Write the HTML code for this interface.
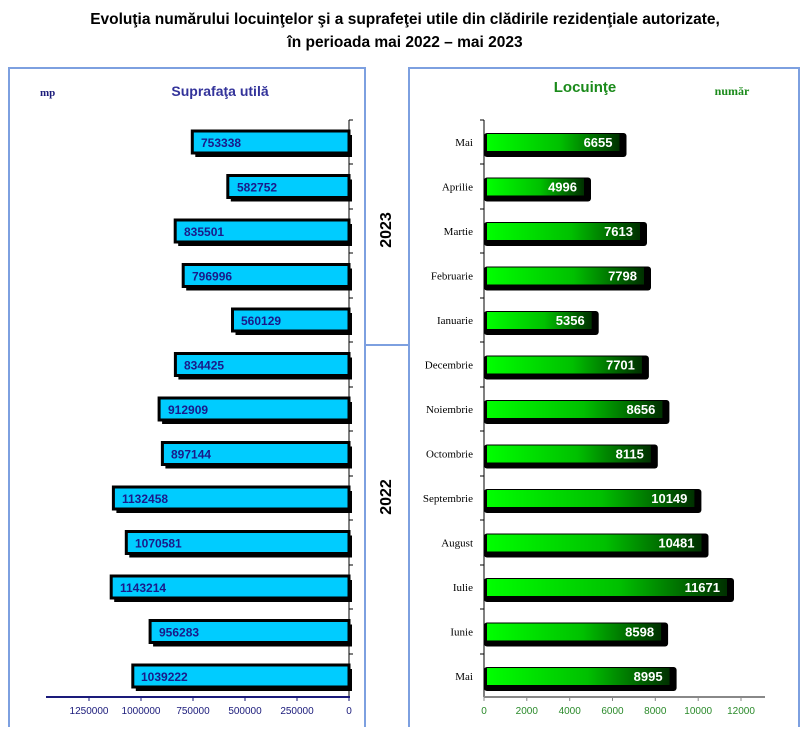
<!DOCTYPE html>
<html><head><meta charset="utf-8"><style>
body{margin:0;background:#fff;width:811px;height:727px;overflow:hidden}
.lv{font-family:"Liberation Sans",sans-serif;font-weight:bold;font-size:12px;fill:#1a1a8a}
.rv{font-family:"Liberation Sans",sans-serif;font-weight:bold;font-size:13px;fill:#fff;text-anchor:end}
.m{font-family:"Liberation Serif",serif;font-size:11px;text-anchor:end}
.lt{font-family:"Liberation Sans",sans-serif;font-size:10px;fill:#1a1a7a;text-anchor:middle}
.rt{font-family:"Liberation Sans",sans-serif;font-size:10px;fill:#2a8a2a;text-anchor:middle}
.lb{fill:#00ccff;stroke:#000;stroke-width:3}
</style></head><body>
<svg width="811" height="727" xmlns="http://www.w3.org/2000/svg">
<defs>
<linearGradient id="g" x1="0" x2="1" y1="0" y2="0">
<stop offset="0" stop-color="#00ff00"/><stop offset="0.55" stop-color="#00c000"/><stop offset="1" stop-color="#003000"/>
</linearGradient>
</defs>
<text x="405" y="24" text-anchor="middle" font-family="Liberation Sans, sans-serif" font-weight="bold" font-size="15.5">Evoluţia numărului locuinţelor şi a suprafeţei utile din clădirile rezidenţiale autorizate,</text>
<text x="405" y="47" text-anchor="middle" font-family="Liberation Sans, sans-serif" font-weight="bold" font-size="15.5">în perioada mai 2022 – mai 2023</text>
<g fill="none" stroke="#7da0e0" stroke-width="2">
<rect x="9" y="68" width="356" height="670"/>
<rect x="409" y="68" width="390" height="670"/>
<line x1="365" y1="345" x2="409" y2="345"/>
</g>
<text x="387" y="230" transform="rotate(-90 387 230)" text-anchor="middle" dominant-baseline="middle" font-family="Liberation Sans, sans-serif" font-weight="bold" font-size="16">2023</text>
<text x="387" y="497" transform="rotate(-90 387 497)" text-anchor="middle" dominant-baseline="middle" font-family="Liberation Sans, sans-serif" font-weight="bold" font-size="16">2022</text>
<text x="40" y="96" font-family="Liberation Serif, serif" font-weight="bold" font-size="11" fill="#1a1a7a">mp</text>
<text x="220" y="96" text-anchor="middle" font-family="Liberation Sans, sans-serif" font-weight="bold" font-size="14" fill="#33339a">Suprafaţa utilă</text>
<text x="585" y="92" text-anchor="middle" font-family="Liberation Sans, sans-serif" font-weight="bold" font-size="15" fill="#1a8a1a">Locuinţe</text>
<text x="732" y="95" text-anchor="middle" font-family="Liberation Serif, serif" font-weight="bold" font-size="12" fill="#1a8a1a">număr</text>
<line x1="349" y1="120" x2="349" y2="697" stroke="#000"/>
<line x1="46" y1="697" x2="350" y2="697" stroke="#1a1a7a" stroke-width="2"/>
<line x1="484" y1="120" x2="484" y2="697" stroke="#000"/>
<line x1="484" y1="697" x2="765" y2="697" stroke="#888" stroke-width="2"/>

<g transform="translate(0,142)"><rect x="195.3" y="-7" width="156.7" height="22"/><rect class="lb" x="192.3" y="-11" width="156.7" height="22"/><text class="lv" x="201" y="5">753338</text>
<rect x="484" y="-9" width="142.5" height="24" rx="3"/><rect x="487" y="-8" width="132.5" height="17" fill="url(#g)"/><text class="rv" x="612.5" y="5">6655</text><text class="m" x="473" y="4">Mai</text></g>
<g transform="translate(0,186.5)"><rect x="230.8" y="-7" width="121.2" height="22"/><rect class="lb" x="227.8" y="-11" width="121.2" height="22"/><text class="lv" x="237" y="5">582752</text>
<rect x="484" y="-9" width="107" height="24" rx="3"/><rect x="487" y="-8" width="97" height="17" fill="url(#g)"/><text class="rv" x="577" y="5">4996</text><text class="m" x="473" y="4">Aprilie</text></g>
<g transform="translate(0,231)"><rect x="178.2" y="-7" width="173.8" height="22"/><rect class="lb" x="175.2" y="-11" width="173.8" height="22"/><text class="lv" x="184" y="5">835501</text>
<rect x="484" y="-9" width="163" height="24" rx="3"/><rect x="487" y="-8" width="153" height="17" fill="url(#g)"/><text class="rv" x="633" y="5">7613</text><text class="m" x="473" y="4">Martie</text></g>
<g transform="translate(0,275.5)"><rect x="186.2" y="-7" width="165.8" height="22"/><rect class="lb" x="183.2" y="-11" width="165.8" height="22"/><text class="lv" x="192" y="5">796996</text>
<rect x="484" y="-9" width="167" height="24" rx="3"/><rect x="487" y="-8" width="157" height="17" fill="url(#g)"/><text class="rv" x="637" y="5">7798</text><text class="m" x="473" y="4">Februarie</text></g>
<g transform="translate(0,320)"><rect x="235.5" y="-7" width="116.5" height="22"/><rect class="lb" x="232.5" y="-11" width="116.5" height="22"/><text class="lv" x="241" y="5">560129</text>
<rect x="484" y="-9" width="114.7" height="24" rx="3"/><rect x="487" y="-8" width="104.7" height="17" fill="url(#g)"/><text class="rv" x="584.7" y="5">5356</text><text class="m" x="473" y="4">Ianuarie</text></g>
<g transform="translate(0,364.5)"><rect x="178.4" y="-7" width="173.6" height="22"/><rect class="lb" x="175.4" y="-11" width="173.6" height="22"/><text class="lv" x="184" y="5">834425</text>
<rect x="484" y="-9" width="164.9" height="24" rx="3"/><rect x="487" y="-8" width="154.9" height="17" fill="url(#g)"/><text class="rv" x="634.9" y="5">7701</text><text class="m" x="473" y="4">Decembrie</text></g>
<g transform="translate(0,409)"><rect x="162.1" y="-7" width="189.9" height="22"/><rect class="lb" x="159.1" y="-11" width="189.9" height="22"/><text class="lv" x="168" y="5">912909</text>
<rect x="484" y="-9" width="185.4" height="24" rx="3"/><rect x="487" y="-8" width="175.4" height="17" fill="url(#g)"/><text class="rv" x="655.4" y="5">8656</text><text class="m" x="473" y="4">Noiembrie</text></g>
<g transform="translate(0,453.5)"><rect x="165.4" y="-7" width="186.6" height="22"/><rect class="lb" x="162.4" y="-11" width="186.6" height="22"/><text class="lv" x="171" y="5">897144</text>
<rect x="484" y="-9" width="173.8" height="24" rx="3"/><rect x="487" y="-8" width="163.8" height="17" fill="url(#g)"/><text class="rv" x="643.8" y="5">8115</text><text class="m" x="473" y="4">Octombrie</text></g>
<g transform="translate(0,498)"><rect x="116.4" y="-7" width="235.6" height="22"/><rect class="lb" x="113.4" y="-11" width="235.6" height="22"/><text class="lv" x="122" y="5">1132458</text>
<rect x="484" y="-9" width="217.4" height="24" rx="3"/><rect x="487" y="-8" width="207.4" height="17" fill="url(#g)"/><text class="rv" x="687.4" y="5">10149</text><text class="m" x="473" y="4">Septembrie</text></g>
<g transform="translate(0,542.5)"><rect x="129.3" y="-7" width="222.7" height="22"/><rect class="lb" x="126.3" y="-11" width="222.7" height="22"/><text class="lv" x="135" y="5">1070581</text>
<rect x="484" y="-9" width="224.5" height="24" rx="3"/><rect x="487" y="-8" width="214.5" height="17" fill="url(#g)"/><text class="rv" x="694.5" y="5">10481</text><text class="m" x="473" y="4">August</text></g>
<g transform="translate(0,587)"><rect x="114.2" y="-7" width="237.8" height="22"/><rect class="lb" x="111.2" y="-11" width="237.8" height="22"/><text class="lv" x="120" y="5">1143214</text>
<rect x="484" y="-9" width="250" height="24" rx="3"/><rect x="487" y="-8" width="240" height="17" fill="url(#g)"/><text class="rv" x="720" y="5">11671</text><text class="m" x="473" y="4">Iulie</text></g>
<g transform="translate(0,631.5)"><rect x="153.1" y="-7" width="198.9" height="22"/><rect class="lb" x="150.1" y="-11" width="198.9" height="22"/><text class="lv" x="159" y="5">956283</text>
<rect x="484" y="-9" width="184.1" height="24" rx="3"/><rect x="487" y="-8" width="174.1" height="17" fill="url(#g)"/><text class="rv" x="654.1" y="5">8598</text><text class="m" x="473" y="4">Iunie</text></g>
<g transform="translate(0,676)"><rect x="135.8" y="-7" width="216.2" height="22"/><rect class="lb" x="132.8" y="-11" width="216.2" height="22"/><text class="lv" x="141" y="5">1039222</text>
<rect x="484" y="-9" width="192.6" height="24" rx="3"/><rect x="487" y="-8" width="182.6" height="17" fill="url(#g)"/><text class="rv" x="662.6" y="5">8995</text><text class="m" x="473" y="4">Mai</text></g>

<g stroke="#000">
<line x1="349" y1="120" x2="353" y2="120"/><line x1="349" y1="164" x2="353" y2="164"/><line x1="349" y1="209" x2="353" y2="209"/><line x1="349" y1="253" x2="353" y2="253"/><line x1="349" y1="298" x2="353" y2="298"/><line x1="349" y1="342" x2="353" y2="342"/><line x1="349" y1="387" x2="353" y2="387"/><line x1="349" y1="431" x2="353" y2="431"/><line x1="349" y1="476" x2="353" y2="476"/><line x1="349" y1="520" x2="353" y2="520"/><line x1="349" y1="565" x2="353" y2="565"/><line x1="349" y1="609" x2="353" y2="609"/><line x1="349" y1="654" x2="353" y2="654"/>
<line x1="480" y1="120" x2="484" y2="120"/><line x1="480" y1="164" x2="484" y2="164"/><line x1="480" y1="209" x2="484" y2="209"/><line x1="480" y1="253" x2="484" y2="253"/><line x1="480" y1="298" x2="484" y2="298"/><line x1="480" y1="342" x2="484" y2="342"/><line x1="480" y1="387" x2="484" y2="387"/><line x1="480" y1="431" x2="484" y2="431"/><line x1="480" y1="476" x2="484" y2="476"/><line x1="480" y1="520" x2="484" y2="520"/><line x1="480" y1="565" x2="484" y2="565"/><line x1="480" y1="609" x2="484" y2="609"/><line x1="480" y1="654" x2="484" y2="654"/>
</g>
<g stroke="#1a1a7a"><line x1="89" y1="697" x2="89" y2="701"/><line x1="141" y1="697" x2="141" y2="701"/><line x1="193" y1="697" x2="193" y2="701"/><line x1="245" y1="697" x2="245" y2="701"/><line x1="297" y1="697" x2="297" y2="701"/><line x1="349" y1="697" x2="349" y2="701"/></g>
<text class="lt" x="89" y="714">1250000</text><text class="lt" x="141" y="714">1000000</text><text class="lt" x="193" y="714">750000</text><text class="lt" x="245" y="714">500000</text><text class="lt" x="297" y="714">250000</text><text class="lt" x="349" y="714">0</text>
<g stroke="#888"><line x1="484" y1="697" x2="484" y2="701"/><line x1="526.8" y1="697" x2="526.8" y2="701"/><line x1="569.7" y1="697" x2="569.7" y2="701"/><line x1="612.5" y1="697" x2="612.5" y2="701"/><line x1="655.3" y1="697" x2="655.3" y2="701"/><line x1="698.2" y1="697" x2="698.2" y2="701"/><line x1="741" y1="697" x2="741" y2="701"/></g>
<text class="rt" x="484" y="714">0</text><text class="rt" x="526.8" y="714">2000</text><text class="rt" x="569.7" y="714">4000</text><text class="rt" x="612.5" y="714">6000</text><text class="rt" x="655.3" y="714">8000</text><text class="rt" x="698.2" y="714">10000</text><text class="rt" x="741" y="714">12000</text>
</svg>
</body></html>
